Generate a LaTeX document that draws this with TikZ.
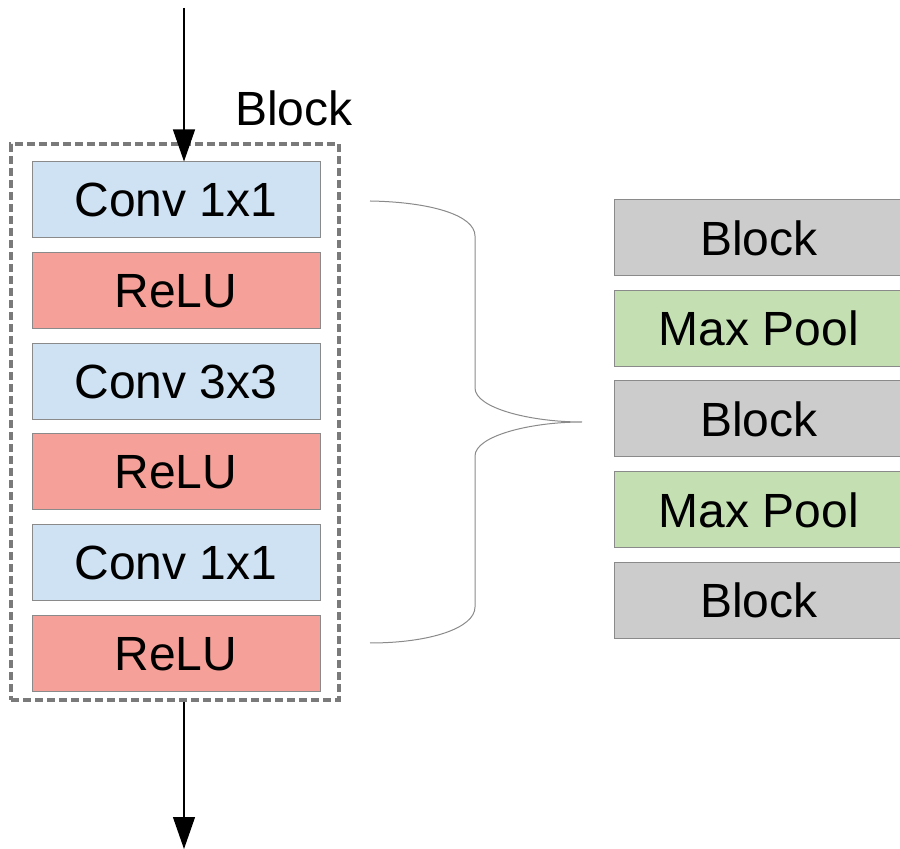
\documentclass[tikz,border=0pt]{standalone}
\usepackage{fontspec}
\setmainfont{Liberation Sans}
\usetikzlibrary{arrows.meta}

\definecolor{convblue}{HTML}{CFE2F3}
\definecolor{relured}{HTML}{F5A098}
\definecolor{poolgreen}{HTML}{C4DFB2}
\definecolor{blockgray}{HTML}{CCCCCC}
\definecolor{edgegray}{HTML}{8A8A8A}
\definecolor{framegray}{HTML}{7A7A7A}

\tikzset{
  layer/.style={draw=edgegray, line width=0.5pt, minimum width=144pt, minimum height=38pt, inner sep=0pt,
    font=\fontsize{24}{28}\selectfont},
  stage/.style={layer, minimum width=145pt},
  flow/.style={line width=0.6pt, -{Triangle[width=11pt,length=16pt]}}
}

\begin{document}
\begin{tikzpicture}[x=0.5pt, y=-0.5pt]
\useasboundingbox (0,0) rectangle (900,849);
% block frame and its label
\node[draw=framegray, line width=1.8pt, dash pattern=on 4pt off 2pt, minimum width=164pt, minimum height=278pt] (frame) at (175,422) {};
\node[font=\fontsize{24}{28}\selectfont] (title) at (294,108) {Block};
% layers inside one block
\node[layer, fill=convblue] (c1) at (176,200) {Conv 1x1};
\node[layer, fill=relured] (r1) at (176,291) {ReLU};
\node[layer, fill=convblue] (c2) at (176,382) {Conv 3x3};
\node[layer, fill=relured] (r2) at (176,472) {ReLU};
\node[layer, fill=convblue] (c3) at (176,563) {Conv 1x1};
\node[layer, fill=relured] (r3) at (176,654) {ReLU};
% whole network
\node[stage, fill=blockgray] (b1) at (759,238) {Block};
\node[stage, fill=poolgreen] (p1) at (759,328.5) {Max Pool};
\node[stage, fill=blockgray] (b2) at (759,419) {Block};
\node[stage, fill=poolgreen] (p2) at (759,510) {Max Pool};
\node[stage, fill=blockgray] (b3) at (759,600.5) {Block};
% input and output
\coordinate (in) at (184,8);
\coordinate (out) at (184,849);
\draw[flow] (in) -- (in |- c1.north);
\draw[flow] (frame.south -| out) -- (out);
% brace
\coordinate (top) at (370,201);
\coordinate (tip) at (582,422);
\coordinate (bot) at (370,643);
\draw[edgegray, line width=0.5pt] (top) .. controls (430,202) and (475,215) .. (475,236) -- (475,388)
  .. controls (475,408) and (530,422) .. (tip) .. controls (530,422) and (475,436) .. (475,456)
  -- (475,607) .. controls (475,628) and (430,643) .. (bot);
\end{tikzpicture}
\end{document}
